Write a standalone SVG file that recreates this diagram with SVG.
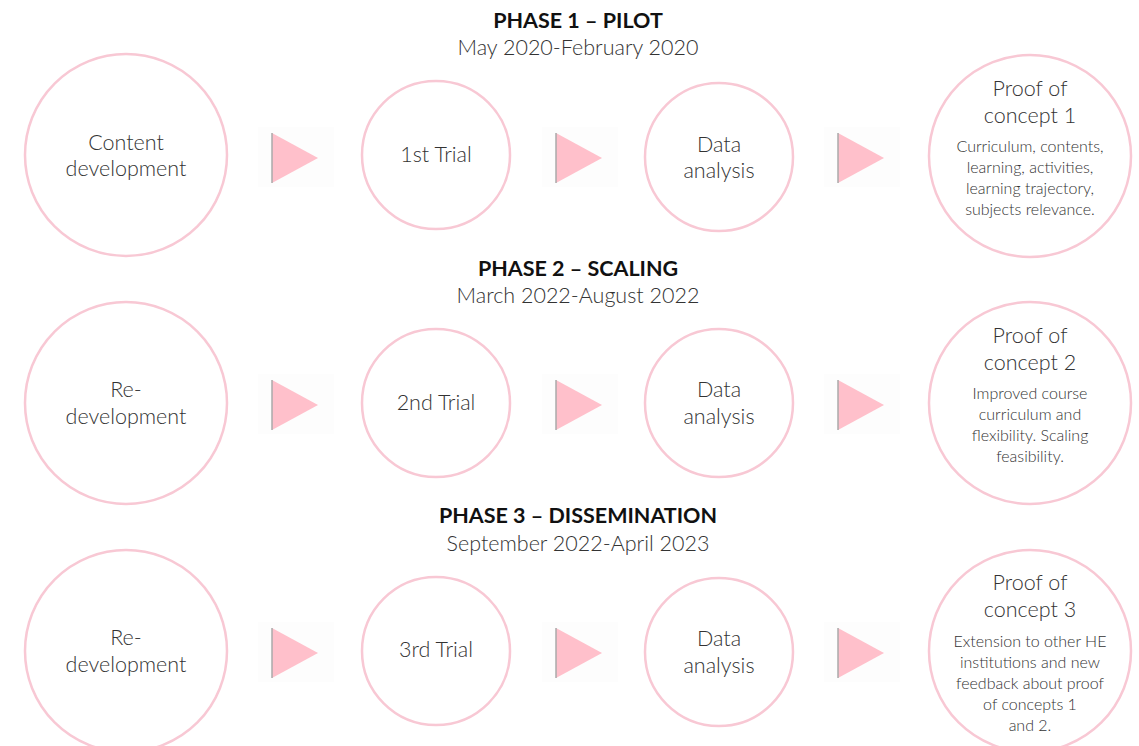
<svg xmlns="http://www.w3.org/2000/svg" width="1139" height="746" viewBox="0 0 1139 746">
<style>
.c{fill:#fff;stroke:#f8c8d4;stroke-width:2.5}
.t{font-family:Lato,"Open Sans",sans-serif;font-weight:300;fill:#333;text-anchor:middle}
.l{font-size:21.5px}
.s{font-size:16px}
.h{font-family:Lato,"Open Sans",sans-serif;font-weight:700;font-size:21.5px;fill:#111;text-anchor:middle}
.a{fill:#ffc0cb;stroke:none}
.ae{stroke:#aaa;stroke-width:1.5}
</style>
<defs>
<g id="arr">
<rect x="-14" y="-30" width="76" height="60" fill="#fdfdfd"/>
<polygon class="a" points="0,-24 46,1 0,26"/>
<line class="ae" x1="0" y1="-24" x2="0" y2="26"/>
</g>
</defs>
<g id="titles">
<text class="h" x="578" y="28">PHASE 1 – PILOT</text>
<text class="t l" x="578" y="55">May 2020-February 2020</text>
<text class="h" x="578" y="276">PHASE 2 – SCALING</text>
<text class="t l" x="578" y="303">March 2022-August 2022</text>
<text class="h" x="578" y="523">PHASE 3 – DISSEMINATION</text>
<text class="t l" x="578" y="551">September 2022-April 2023</text>
</g>
<g id="connectors">
<use href="#arr" x="272" y="157"/>
<use href="#arr" x="556" y="157"/>
<use href="#arr" x="838" y="157"/>
<use href="#arr" x="272" y="404"/>
<use href="#arr" x="556" y="404"/>
<use href="#arr" x="838" y="404"/>
<use href="#arr" x="272" y="652"/>
<use href="#arr" x="556" y="652"/>
<use href="#arr" x="838" y="652"/>
</g>
<g id="n1"><circle class="c" cx="126" cy="155" r="101"/><text class="t l" x="126" y="150">Content</text><text class="t l" x="126" y="176">development</text></g>
<g id="n2"><circle class="c" cx="436" cy="155" r="74"/><text class="t l" x="436" y="162">1st Trial</text></g>
<g id="n3"><circle class="c" cx="719" cy="157" r="74"/><text class="t l" x="719" y="152">Data</text><text class="t l" x="719" y="178">analysis</text></g>
<g id="n4"><circle class="c" cx="1030" cy="156" r="101"/><text class="t l" x="1030" y="96">Proof of</text><text class="t l" x="1030" y="123">concept 1</text>
<text class="t s" x="1030" y="152">Curriculum, contents,</text><text class="t s" x="1030" y="173">learning, activities,</text><text class="t s" x="1030" y="194">learning trajectory,</text><text class="t s" x="1030" y="215">subjects relevance.</text></g>
<g id="n5"><circle class="c" cx="126" cy="403" r="101"/><text class="t l" x="126" y="397">Re-</text><text class="t l" x="126" y="424">development</text></g>
<g id="n6"><circle class="c" cx="436" cy="403" r="74"/><text class="t l" x="436" y="410">2nd Trial</text></g>
<g id="n7"><circle class="c" cx="719" cy="403" r="74"/><text class="t l" x="719" y="397">Data</text><text class="t l" x="719" y="424">analysis</text></g>
<g id="n8"><circle class="c" cx="1030" cy="403" r="101"/><text class="t l" x="1030" y="343">Proof of</text><text class="t l" x="1030" y="370">concept 2</text>
<text class="t s" x="1030" y="399">Improved course</text><text class="t s" x="1030" y="420">curriculum and</text><text class="t s" x="1030" y="441">flexibility. Scaling</text><text class="t s" x="1030" y="462">feasibility.</text></g>
<g id="n9"><circle class="c" cx="126" cy="651" r="101"/><text class="t l" x="126" y="645">Re-</text><text class="t l" x="126" y="672">development</text></g>
<g id="n10"><circle class="c" cx="436" cy="651" r="74"/><text class="t l" x="436" y="657">3rd Trial</text></g>
<g id="n11"><circle class="c" cx="719" cy="652" r="74"/><text class="t l" x="719" y="646">Data</text><text class="t l" x="719" y="673">analysis</text></g>
<g id="n12"><circle class="c" cx="1030" cy="651" r="101"/><text class="t l" x="1030" y="590">Proof of</text><text class="t l" x="1030" y="617">concept 3</text>
<text class="t s" x="1030" y="647">Extension to other HE</text><text class="t s" x="1030" y="668">institutions and new</text><text class="t s" x="1030" y="689">feedback about proof</text><text class="t s" x="1030" y="710">of concepts 1</text><text class="t s" x="1030" y="731">and 2.</text></g>
</svg>
